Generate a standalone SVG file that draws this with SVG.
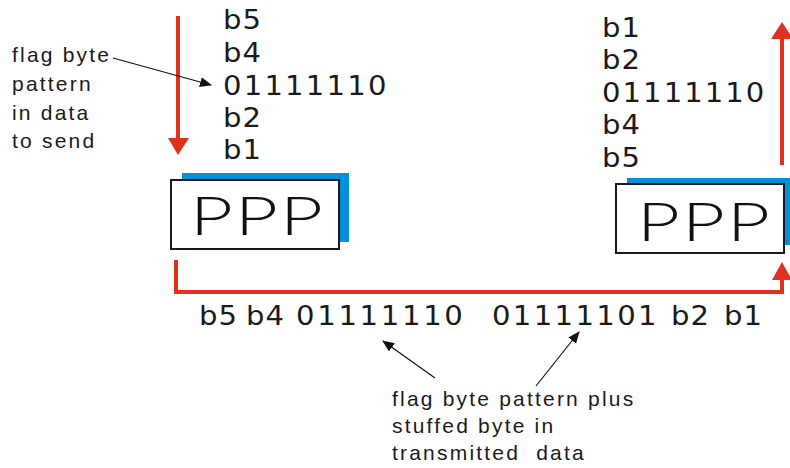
<svg xmlns="http://www.w3.org/2000/svg" width="790" height="468" viewBox="0 0 790 468">
  <style>
    .lbl { font-family: "Liberation Sans", Arial, sans-serif; font-size: 21px; letter-spacing: 2.2px; fill: #1a1a1a; }
    .bits { font-family: "DejaVu Sans", "Liberation Sans", sans-serif; font-size: 26px; letter-spacing: 1px; fill: #1a1a1a; }
    .ppp { font-family: Lato, "Liberation Sans", Arial, sans-serif; font-weight: 300; font-size: 53px; fill: #111; }
    .box { fill: #ffffff; stroke: #1a1a1a; stroke-width: 2; }
    .shadow { fill: #0090dc; }
    .flow { fill: none; stroke: #e0301e; stroke-width: 4; }
    .head { fill: #e0301e; }
    .pointer { stroke: #111; stroke-width: 1.2; fill: none; marker-end: url(#tip); }
  </style>
  <defs>
    <marker id="tip" viewBox="0 0 12 10" refX="11" refY="5" markerWidth="12" markerHeight="10" markerUnits="userSpaceOnUse" orient="auto">
      <path d="M0,0 L12,5 L0,10 Z" fill="#111"/>
    </marker>
  </defs>

  <!-- sending side -->
  <g id="sender-ppp">
    <rect class="shadow" x="182" y="173" width="167" height="69"/>
    <rect class="box" x="171" y="180" width="168" height="69"/>
    <text class="ppp" transform="translate(190,235) scale(1.4,1)" textLength="95" lengthAdjust="spacing">PPP</text>
  </g>
  <g id="sender-data">
    <text class="bits" transform="translate(223,29) scale(1.12,1)">b5</text>
    <text class="bits" transform="translate(223,62) scale(1.12,1)">b4</text>
    <text class="bits" transform="translate(223,95) scale(1.12,1)" textLength="147" lengthAdjust="spacing">01111110</text>
    <text class="bits" transform="translate(223,127) scale(1.12,1)">b2</text>
    <text class="bits" transform="translate(223,159) scale(1.12,1)">b1</text>
  </g>
  <g id="sender-note">
    <text class="lbl" x="12" y="62">flag byte</text>
    <text class="lbl" x="12" y="91">pattern</text>
    <text class="lbl" x="12" y="120">in data</text>
    <text class="lbl" x="12" y="148">to send</text>
  </g>

  <!-- receiving side -->
  <g id="receiver-ppp">
    <rect class="shadow" x="627" y="178" width="165" height="67"/>
    <rect class="box" x="616" y="184" width="168" height="69"/>
    <text class="ppp" transform="translate(637,241) scale(1.4,1)" textLength="95" lengthAdjust="spacing">PPP</text>
  </g>
  <g id="receiver-data">
    <text class="bits" transform="translate(602,37) scale(1.12,1)">b1</text>
    <text class="bits" transform="translate(602,69) scale(1.12,1)">b2</text>
    <text class="bits" transform="translate(602,102) scale(1.12,1)" textLength="146" lengthAdjust="spacing">01111110</text>
    <text class="bits" transform="translate(602,134) scale(1.12,1)">b4</text>
    <text class="bits" transform="translate(602,167) scale(1.12,1)">b5</text>
  </g>

  <!-- bytes on the link -->
  <g id="link-data">
    <text class="bits" transform="translate(199,325) scale(1.12,1)">b5</text>
    <text class="bits" transform="translate(246,325) scale(1.12,1)">b4</text>
    <text class="bits" transform="translate(296,325) scale(1.12,1)" textLength="150" lengthAdjust="spacing">01111110</text>
    <text class="bits" transform="translate(492,325) scale(1.12,1)" textLength="148" lengthAdjust="spacing">01111101</text>
    <text class="bits" transform="translate(671,325) scale(1.12,1)">b2</text>
    <text class="bits" transform="translate(724,325) scale(1.12,1)">b1</text>
  </g>
  <g id="link-note">
    <text class="lbl" x="392" y="406">flag byte pattern plus</text>
    <text class="lbl" x="392" y="433">stuffed byte in</text>
    <text class="lbl" x="392" y="460" xml:space="preserve">transmitted  data</text>
  </g>

  <g id="connectors">
    <!-- data flow down into sender -->
    <line class="flow" x1="178" y1="16" x2="178" y2="140"/>
    <polygon class="head" points="168,138 189,138 178,155"/>
    <!-- link from sender to receiver -->
    <path class="flow" d="M176,260 V292 H782 V278"/>
    <polygon class="head" points="772,280 792,280 782,262"/>
    <!-- data flow up out of receiver -->
    <line class="flow" x1="782" y1="165" x2="782" y2="36"/>
    <polygon class="head" points="771,39 793,39 782,22"/>
    <!-- annotation pointers -->
    <line class="pointer" x1="113" y1="58" x2="211" y2="85"/>
    <line class="pointer" x1="435" y1="378" x2="383" y2="341"/>
    <line class="pointer" x1="536" y1="386" x2="579" y2="332"/>
  </g>
</svg>
